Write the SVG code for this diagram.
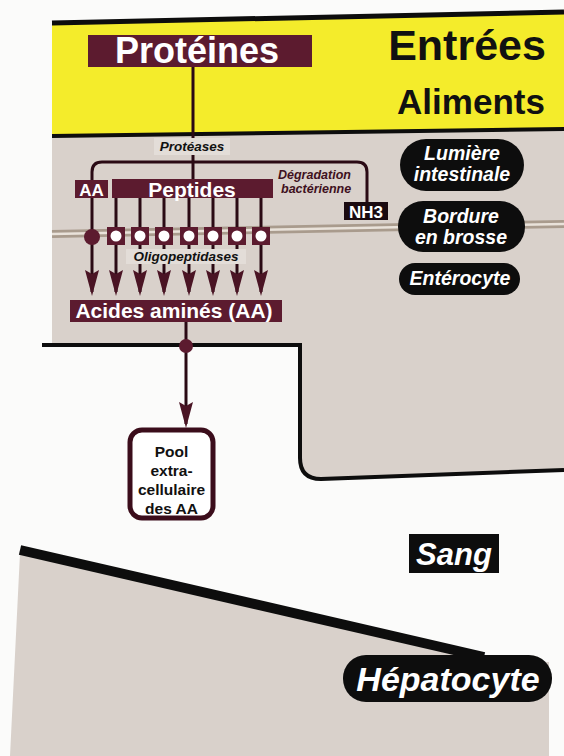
<svg xmlns="http://www.w3.org/2000/svg" width="564" height="756" viewBox="0 0 564 756">
<style>
.b{font-family:"Liberation Sans",Arial,sans-serif;font-weight:bold}
.bi{font-family:"Liberation Sans",Arial,sans-serif;font-weight:bold;font-style:italic}
.w{fill:#ffffff}
.k{fill:#111111}
.box{fill:#5c1b2f}
.pill{fill:#0d0d0d}
.ln{stroke:#2a0a14;stroke-width:3;fill:none}
.edge{stroke:#0d0d0d;fill:none}
</style>
<defs>
<marker id="arr" viewBox="0 0 26 14" markerWidth="26" markerHeight="14" refX="22" refY="7" orient="auto" markerUnits="userSpaceOnUse">
<path d="M0,0 L26,7 L0,14 L4,7 Z" fill="#4a1424"/>
</marker>
</defs>
<rect width="564" height="756" fill="#fbfbfa"/>
<g id="zones">
<path d="M52,23 L564,12 L564,129 L52,136 Z" fill="#f4ec2b"/>
<path d="M52,136 L564,129 L564,470 L321,479 Q300,479 300,458 L300,345 L52,345 Z" fill="#d9d1cb"/>
<path d="M52,23 L564,12" class="edge" stroke-width="5"/>
<path d="M52,136 L564,129" class="edge" stroke-width="4"/>
<path d="M42,345 L300,345 L300,458 Q300,479 321,479 L564,470" class="edge" stroke-width="4"/>
<path d="M20,553 L482,660 L549,662 L549,756 L10,756 Z" fill="#d9d1cb"/>
<path d="M20,550 L484,657" class="edge" stroke-width="10"/>
<path d="M52,234 L564,224" stroke="#a99b8d" stroke-width="8" fill="none"/>
<path d="M52,234 L564,224" stroke="#e9e2da" stroke-width="2.5" fill="none"/>
</g>
<g id="connectors">
<path class="ln" d="M193,67 L193,179"/>
<path class="ln" d="M92,180 L92,172 Q92,162 102,162 L357,162 Q367,162 367,172 L367,202"/>
<path class="ln" d="M92,198 L92,292" marker-end="url(#arr)"/>
<circle cx="92" cy="237" r="8" fill="#5c1b2f"/>
<path class="ln" d="M116,198 V227 M140,198 V227 M164,198 V227 M189,198 V227 M213,198 V227 M237,198 V227 M261,198 V227"/>
<path class="ln" d="M116,245 L116,292" marker-end="url(#arr)"/>
<path class="ln" d="M140,245 L140,292" marker-end="url(#arr)"/>
<path class="ln" d="M164,245 L164,292" marker-end="url(#arr)"/>
<path class="ln" d="M189,245 L189,292" marker-end="url(#arr)"/>
<path class="ln" d="M213,245 L213,292" marker-end="url(#arr)"/>
<path class="ln" d="M237,245 L237,292" marker-end="url(#arr)"/>
<path class="ln" d="M261,245 L261,292" marker-end="url(#arr)"/>
<path class="ln" d="M186,322 L186,424" marker-end="url(#arr)"/>
<circle cx="186" cy="346" r="7" fill="#5c1b2f"/>
</g>
<g id="proteines">
<rect class="box" x="88" y="35" width="224" height="32"/>
<text class="b w" x="197" y="63" font-size="36" text-anchor="middle">Protéines</text>
</g>
<g id="entrees">
<text class="b k" x="467" y="60" font-size="43" text-anchor="middle">Entrées</text>
</g>
<g id="aliments">
<text class="b k" x="471" y="114" font-size="35" text-anchor="middle">Aliments</text>
</g>
<g id="proteases">
<rect x="154" y="138" width="76" height="17" fill="#e3ddd8"/>
<text class="bi k" x="192" y="151" font-size="13.5" text-anchor="middle">Protéases</text>
</g>
<g id="aa">
<rect class="box" x="75" y="180" width="33" height="18"/>
<text class="b w" x="91.5" y="196" font-size="17" text-anchor="middle">AA</text>
</g>
<g id="peptides">
<rect class="box" x="112" y="179" width="161" height="19"/>
<text class="b w" x="192" y="197" font-size="21" text-anchor="middle">Peptides</text>
</g>
<g id="degradation">
<text class="bi" x="278" y="179" font-size="12.5" fill="#3e1020">Dégradation</text>
<text class="bi" x="281" y="193" font-size="12.5" fill="#3e1020">bactérienne</text>
</g>
<g id="nh3">
<rect x="344" y="202" width="44" height="18" fill="#1a0a10"/>
<text class="b w" x="366" y="218" font-size="17" text-anchor="middle">NH3</text>
</g>
<g id="oligopeptidases">
<g fill="#5c1b2f">
<rect x="107" y="227" width="18" height="18"/>
<rect x="131" y="227" width="18" height="18"/>
<rect x="155" y="227" width="18" height="18"/>
<rect x="180" y="227" width="18" height="18"/>
<rect x="204" y="227" width="18" height="18"/>
<rect x="228" y="227" width="18" height="18"/>
<rect x="252" y="227" width="18" height="18"/>
</g>
<g fill="#ffffff">
<circle cx="116" cy="236" r="5.5"/>
<circle cx="140" cy="236" r="5.5"/>
<circle cx="164" cy="236" r="5.5"/>
<circle cx="189" cy="236" r="5.5"/>
<circle cx="213" cy="236" r="5.5"/>
<circle cx="237" cy="236" r="5.5"/>
<circle cx="261" cy="236" r="5.5"/>
</g>
<rect x="126" y="249" width="120" height="15" fill="#e3ddd8"/>
<text class="bi k" x="186" y="261" font-size="13.5" text-anchor="middle">Oligopeptidases</text>
</g>
<g id="acides-amines">
<rect class="box" x="70" y="300" width="212" height="22"/>
<text class="b w" x="174" y="318" font-size="21" text-anchor="middle">Acides aminés (AA)</text>
</g>
<g id="pool">
<rect x="130" y="430" width="83" height="88" rx="12" fill="#ffffff" stroke="#3b0d1b" stroke-width="5"/>
<text class="b k" x="171.5" y="457" font-size="15.5" text-anchor="middle">Pool</text>
<text class="b k" x="171.5" y="476" font-size="15.5" text-anchor="middle">extra-</text>
<text class="b k" x="171.5" y="495" font-size="15.5" text-anchor="middle">cellulaire</text>
<text class="b k" x="171.5" y="514" font-size="15.5" text-anchor="middle">des AA</text>
</g>
<g id="lumiere">
<rect class="pill" x="400" y="139" width="124" height="52" rx="26"/>
<text class="bi w" x="462" y="160" font-size="19.5" text-anchor="middle">Lumière</text>
<text class="bi w" x="462" y="181" font-size="19.5" text-anchor="middle">intestinale</text>
</g>
<g id="bordure">
<rect class="pill" x="398" y="201" width="127" height="51" rx="25"/>
<text class="bi w" x="461" y="223" font-size="19.5" text-anchor="middle">Bordure</text>
<text class="bi w" x="461" y="244" font-size="19.5" text-anchor="middle">en brosse</text>
</g>
<g id="enterocyte">
<rect class="pill" x="399" y="263" width="121" height="32" rx="16"/>
<text class="bi w" x="460" y="285" font-size="19.5" text-anchor="middle">Entérocyte</text>
</g>
<g id="sang">
<rect class="pill" x="409" y="534" width="90" height="39"/>
<text class="bi w" x="454" y="565" font-size="31" text-anchor="middle">Sang</text>
</g>
<g id="hepatocyte">
<rect class="pill" x="343" y="655" width="209" height="47" rx="23"/>
<text class="bi w" x="448" y="691" font-size="34" text-anchor="middle">Hépatocyte</text>
</g>
</svg>
